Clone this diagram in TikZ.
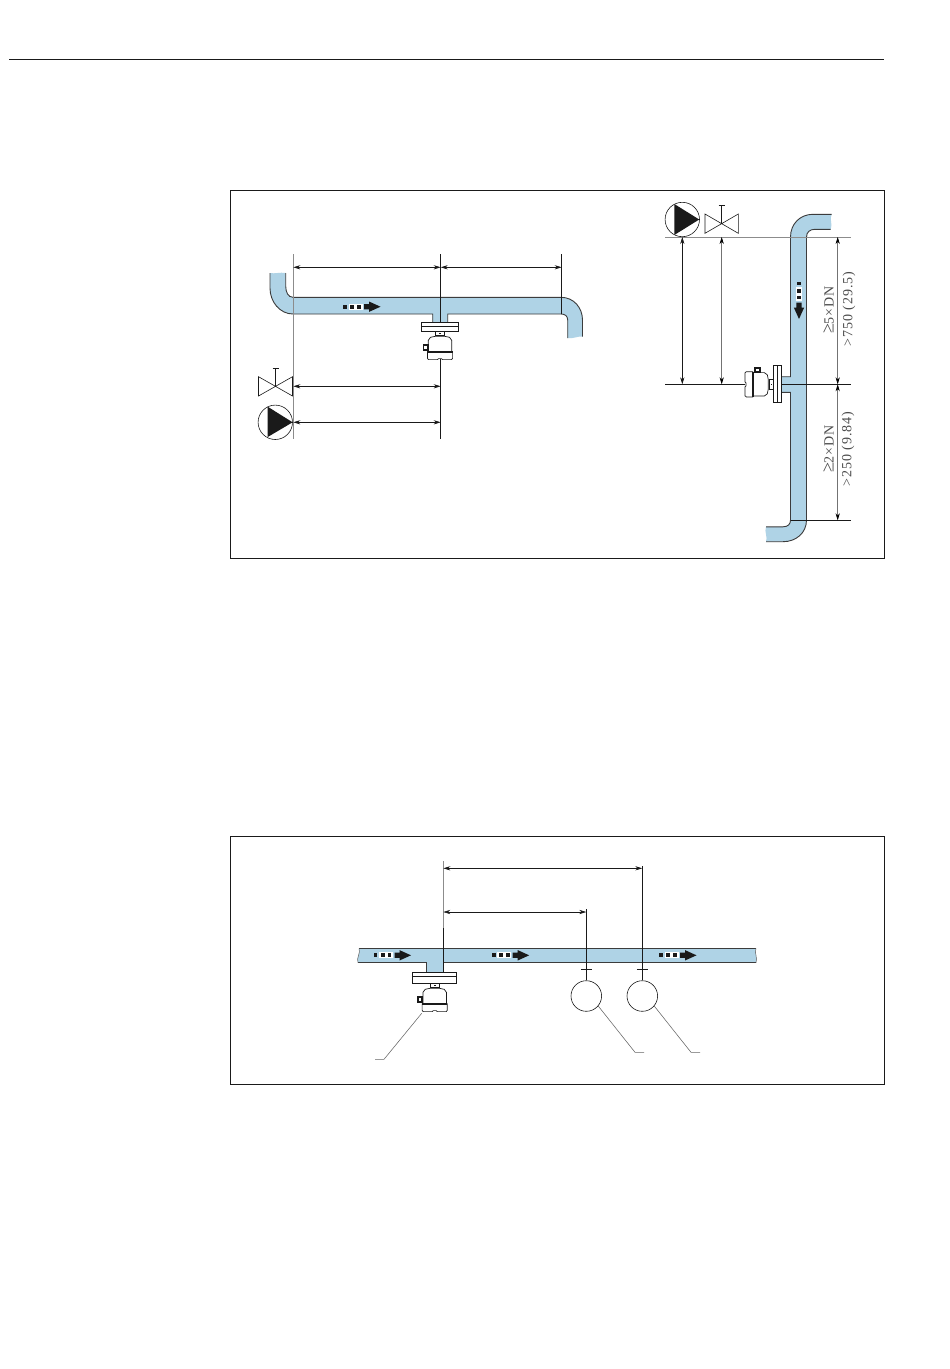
\documentclass[tikz,border=0pt]{standalone}
\usepackage{fontspec}
\newfontfamily\dimfont[LetterSpace=7]{Liberation Serif}
\newcommand{\bigge}{{\fontsize{18}{15}\selectfont ≥}}
\usetikzlibrary{arrows.meta}
\definecolor{pipeblue}{HTML}{AFD3E6}
\definecolor{ink}{HTML}{1A1A1A}
\tikzset{
  pipefill/.style={fill=pipeblue,draw=none},
  pipeline/.style={draw=ink!85,line width=0.9pt},
  thinline/.style={draw=ink,line width=0.6pt},
  greyline/.style={draw=black!45,line width=0.7pt},
  dim/.style={draw=ink,line width=0.6pt,{Stealth[length=7pt,width=4.2pt]}-{Stealth[length=7pt,width=4.2pt]}},
  greydim/.style={draw=black!55,line width=0.6pt,{Stealth[length=7pt,width=4.2pt,black]}-{Stealth[length=7pt,width=4.2pt,black]}},
  framebox/.style={draw=ink,line width=0.7pt,outer sep=0pt},
  leader/.style={draw=black!60,line width=0.55pt},
  dimtext/.style={font=\dimfont\fontsize{14}{15}\selectfont,text=black!70,rotate=90,inner sep=0pt},
  partbody/.style={draw=ink,line width=0.7pt,fill=white},
}
\newcommand{\flowmark}[3]{%
  \begin{scope}[shift={(#1,#2)},rotate=#3]
    \fill[white] (5.5,-2.9) rectangle (19.5,2.9);
    \fill[ink] (0,-1.9) rectangle (3.8,1.9);
    \fill[ink] (7.2,-1.9) rectangle (11,1.9);
    \fill[ink] (14.4,-1.9) rectangle (17.8,1.9);
    \fill[ink] (21,-2.6) -- (26,-2.6) -- (26,-5.2) -- (37.5,0) -- (26,5.2) -- (26,2.6) -- (21,2.6) -- cycle;
  \end{scope}}
\newcommand{\sensorpart}[3]{%
  \begin{scope}[shift={(#1,#2)},rotate=#3]
    \draw[partbody] (-4.7,0) rectangle (4.7,4);
    \fill[ink] (-0.8,1.2) rectangle (0.8,2.8);
    \draw[partbody] (-4.7,5) -- (-9.5,6) -- (-11.7,9) -- (-11.7,20.5) -- (11.7,20.5) -- (11.7,9) -- (9.5,6) -- (4.7,5) -- cycle;
    \draw[partbody] (-12.6,20.5) -- (12.6,20.5) -- (12.6,27) -- (11.5,28.3) -- (2.5,28.3) -- (1.5,27.3) -- (-1.5,27.3) -- (-2.5,28.3) -- (-11.5,28.3) -- (-12.6,27) -- cycle;
    \fill[ink] (-12.6,19.4) rectangle (12.6,21.6);
    \fill[ink] (-17.5,12.8) rectangle (-11.4,19.6);
    \fill[white] (-15.8,14.4) rectangle (-13.4,17.8);
  \end{scope}}
\begin{document}
\begin{tikzpicture}[x=1pt,y=-1pt]
\useasboundingbox (0,0) rectangle (950,1369);
\fill[white] (0,0) rectangle (950,1369);
% header rule
\coordinate (hl) at (9,59.5); \coordinate (hr) at (884,59.5);
\draw[draw=ink,line width=0.7pt] (hl) -- (hr);
% frames
\node[framebox,minimum width=654pt,minimum height=368pt,anchor=north west,inner sep=0pt] (frameA) at (230.5,190.5) {};
\node[framebox,minimum width=654pt,minimum height=248.5pt,anchor=north west,inner sep=0pt] (frameB) at (230.5,836) {};

%%% DIAGRAM A, horizontal pipe
\fill[pipefill] (270,273) .. controls (275,274) and (280,272) .. (285.7,273) -- (285.7,286)
  .. controls (285.7,292) and (288,297.3) .. (293,297.3) -- (561,297.3)
  .. controls (574,297.3) and (582.5,308) .. (582.5,320) -- (582.5,336.5)
  .. controls (578,336) and (573,339) .. (567.7,338) -- (567.7,320)
  .. controls (567.7,316) and (565,314) .. (561,314) -- (447.7,314) -- (447.7,322) -- (432.7,322) -- (432.7,314) -- (293,314)
  .. controls (280,314) and (270,302) .. (270,288) -- cycle;
\draw[pipeline] (270,273) -- (270,288) .. controls (270,302) and (280,314) .. (293,314) -- (432.7,314) -- (432.7,322);
\draw[pipeline] (285.7,273) -- (285.7,286) .. controls (285.7,292) and (288,297.3) .. (293,297.3) -- (561,297.3)
  .. controls (574,297.3) and (582.5,308) .. (582.5,320) -- (582.5,336.5);
\draw[pipeline] (447.7,322) -- (447.7,314) -- (561,314) .. controls (565,314) and (567.7,316) .. (567.7,320) -- (567.7,338);
\flowmark{343}{306.7}{0}
\draw[partbody] (421.3,322) rectangle (458.7,331.3);
\draw[draw=ink,line width=0.6pt] (421.3,326.4) -- (458.7,326.4);
\sensorpart{440}{331.3}{0}
% reference lines
\coordinate (a1t) at (293.3,254); \coordinate (a1b) at (293.3,439);
\coordinate (a2t) at (440.7,254); \coordinate (a2m) at (440.7,322);
\coordinate (a2n) at (440.7,358.5); \coordinate (a2b) at (440.7,439);
\coordinate (a3t) at (561.7,254); \coordinate (a3b) at (561.7,314);
\draw[greyline] (a1t) -- (a1b);
\draw[thinline] (a2t) -- (a2m);
\draw[thinline] (a2n) -- (a2b);
\draw[thinline] (a3t) -- (a3b);
\coordinate (d1l) at (293.3,267.3); \coordinate (d1m) at (440.7,267.3); \coordinate (d1r) at (561.7,267.3);
\draw[dim] (d1l) -- (d1m);
\draw[dim] (d1m) -- (d1r);
\coordinate (d2l) at (293.3,386.3); \coordinate (d2r) at (440.7,386.3);
\draw[dim] (d2l) -- (d2r);
\coordinate (d3l) at (293.3,422.3); \coordinate (d3r) at (440.7,422.3);
\draw[dim] (d3l) -- (d3r);
% valve, pump
\draw[thinline] (258.5,376.7) -- (292.5,396) -- (292.5,376.7) -- (258.5,396) -- cycle;
\draw[thinline] (275.5,386.3) -- (275.5,368.3) (272.5,368.3) -- (278.5,368.3);
\node[draw=ink,line width=0.6pt,circle,minimum size=34.4pt,inner sep=0pt] (pumpA) at (275.3,422.3) {};
\fill[ink] (267.7,406.7) -- (267.7,437) -- (292.6,422.3) -- cycle;

%%% DIAGRAM A, vertical pipe
\fill[pipefill] (790.5,237) .. controls (790.5,224) and (800,214.3) .. (813,214.3) -- (831.7,214.3)
  .. controls (829,219) and (833,224) .. (830.7,229.3) -- (815,229.3)
  .. controls (810,229.3) and (806.5,232) .. (806.5,237) -- (806.5,520)
  .. controls (806.5,533) and (796,541.7) .. (783,541.7) -- (766,541.7)
  .. controls (768,537) and (764,532) .. (766,526.8) -- (783,526.8)
  .. controls (788,526.8) and (790.5,524) .. (790.5,520) -- (790.5,392.3) -- (781.7,392.3) -- (781.7,376.7) -- (790.5,376.7) -- cycle;
\draw[pipeline] (831.7,214.3) -- (813,214.3) .. controls (800,214.3) and (790.5,224) .. (790.5,237) -- (790.5,376.7) -- (781.7,376.7);
\draw[pipeline] (781.7,392.3) -- (790.5,392.3) -- (790.5,520) .. controls (790.5,524) and (788,526.8) .. (783,526.8) -- (766,526.8);
\draw[pipeline] (830.7,229.3) -- (815,229.3) .. controls (810,229.3) and (806.5,232) .. (806.5,237) -- (806.5,520)
  .. controls (806.5,533) and (796,541.7) .. (783,541.7) -- (766,541.7);
\flowmark{799}{281.5}{-90}
\draw[partbody] (773.3,365) rectangle (781.7,402.3);
\draw[draw=ink,line width=0.6pt] (777.5,365) -- (777.5,402.3);
\sensorpart{773.3}{384.3}{-90}
% reference lines
\coordinate (b1l) at (665,237); \coordinate (b1r) at (850.7,237);
\draw[greyline] (b1l) -- (b1r);
\coordinate (b2l) at (665,384.3); \coordinate (b2s) at (745,384.3);
\coordinate (b2f) at (782,384.3); \coordinate (b2r) at (850.7,384.3);
\draw[thinline] (b2l) -- (b2s);
\draw[thinline] (b2f) -- (b2r);
\coordinate (b3l) at (790.5,520.3); \coordinate (b3r) at (850.7,520.3);
\draw[thinline] (b3l) -- (b3r);
\coordinate (e1t) at (682.3,237); \coordinate (e1b) at (682.3,384.3);
\coordinate (e2t) at (721.7,237); \coordinate (e2b) at (721.7,384.3);
\draw[dim] (e1t) -- (e1b);
\draw[greydim] (e2t) -- (e2b);
\coordinate (e3t) at (837.7,237); \coordinate (e3b) at (837.7,384.3); \coordinate (e4b) at (837.7,520.3);
\draw[greydim] (e3t) -- (e3b);
\draw[greydim] (e3b) -- (e4b);
\node[dimtext] (t1) at (828.5,310) {\bigge 5×DN};
\node[dimtext] (t2) at (849,309) {>750 (29.5)};
\node[dimtext] (t3) at (828.5,449) {\bigge 2×DN};
\node[dimtext] (t4) at (848,449) {>250 (9.84)};
% valve, pump
\draw[thinline] (705,214) -- (738.3,233.3) -- (738.3,214) -- (705,233.3) -- cycle;
\draw[thinline] (721.7,224) -- (721.7,205) (718.7,205) -- (724.7,205);
\node[draw=ink,line width=0.6pt,circle,minimum size=34.4pt,inner sep=0pt] (pumpB) at (682.3,219.5) {};
\fill[ink] (674.3,204) -- (674.3,235) -- (699.2,219.5) -- cycle;

%%% DIAGRAM B
\fill[pipefill] (359,948.3) -- (756,948.3) .. controls (754,953) and (758,958) .. (756,962.7)
  -- (443.3,962.7) -- (443.3,972.3) -- (426,972.3) -- (426,962.7) -- (358,962.7)
  .. controls (356,958) and (361,953) .. (359,948.3) -- cycle;
\draw[pipeline] (359,948.3) -- (756,948.3);
\draw[pipeline] (358,962.7) -- (426,962.7) -- (426,972.3);
\draw[pipeline] (443.3,972.3) -- (443.3,962.7) -- (756,962.7);
\draw[black!60,line width=0.5pt] (359,948.3) .. controls (361,953) and (356,958) .. (358,962.7);
\draw[black!60,line width=0.5pt] (756,948.3) .. controls (754,953) and (758,958) .. (756,962.7);
\flowmark{373.5}{955.3}{0}
\flowmark{491.7}{955.3}{0}
\flowmark{659}{955.3}{0}
\draw[partbody] (412.3,972.3) rectangle (456.7,983.3);
\draw[draw=ink,line width=0.6pt] (412.3,976.3) -- (456.7,976.3);
\sensorpart{434.7}{983.3}{0}
\coordinate (c1t) at (443.3,861); \coordinate (c1m) at (443.3,928); \coordinate (c1b) at (443.3,972.3);
\draw[greyline] (c1t) -- (c1m);
\draw[thinline] (c1m) -- (c1b);
\node[draw=ink,line width=0.6pt,circle,minimum size=30.6pt,inner sep=0pt] (m1) at (586.3,996) {};
\node[draw=ink,line width=0.6pt,circle,minimum size=30.6pt,inner sep=0pt] (m2) at (642.3,996) {};
\coordinate (c2t) at (586.3,909.3);
\coordinate (c3t) at (642.3,866);
\draw[thinline] (c2t) -- (m1.north);
\draw[thinline] (c3t) -- (m2.north);
\draw[thinline] (580.8,969.3) -- (591.8,969.3);
\draw[thinline] (636.8,969.3) -- (647.8,969.3);
\coordinate (f1l) at (443.3,868.3); \coordinate (f1r) at (642.3,868.3);
\coordinate (f2l) at (443.3,912); \coordinate (f2r) at (586.3,912);
\draw[dim] (f1l) -- (f1r);
\draw[dim] (f2l) -- (f2r);
% leaders
\coordinate (l1e) at (644,1052.3); \coordinate (l1k) at (635,1052.3);
\coordinate (l2e) at (700,1052.3); \coordinate (l2k) at (691,1052.3);
\coordinate (l3s) at (421.7,1013.3); \coordinate (l3k) at (384,1059.3); \coordinate (l3e) at (375,1059.3);
\draw[leader] (m1.-40) -- (l1k) -- (l1e);
\draw[leader] (m2.-40) -- (l2k) -- (l2e);
\draw[leader] (l3s) -- (l3k) -- (l3e);
\end{tikzpicture}
\end{document}
